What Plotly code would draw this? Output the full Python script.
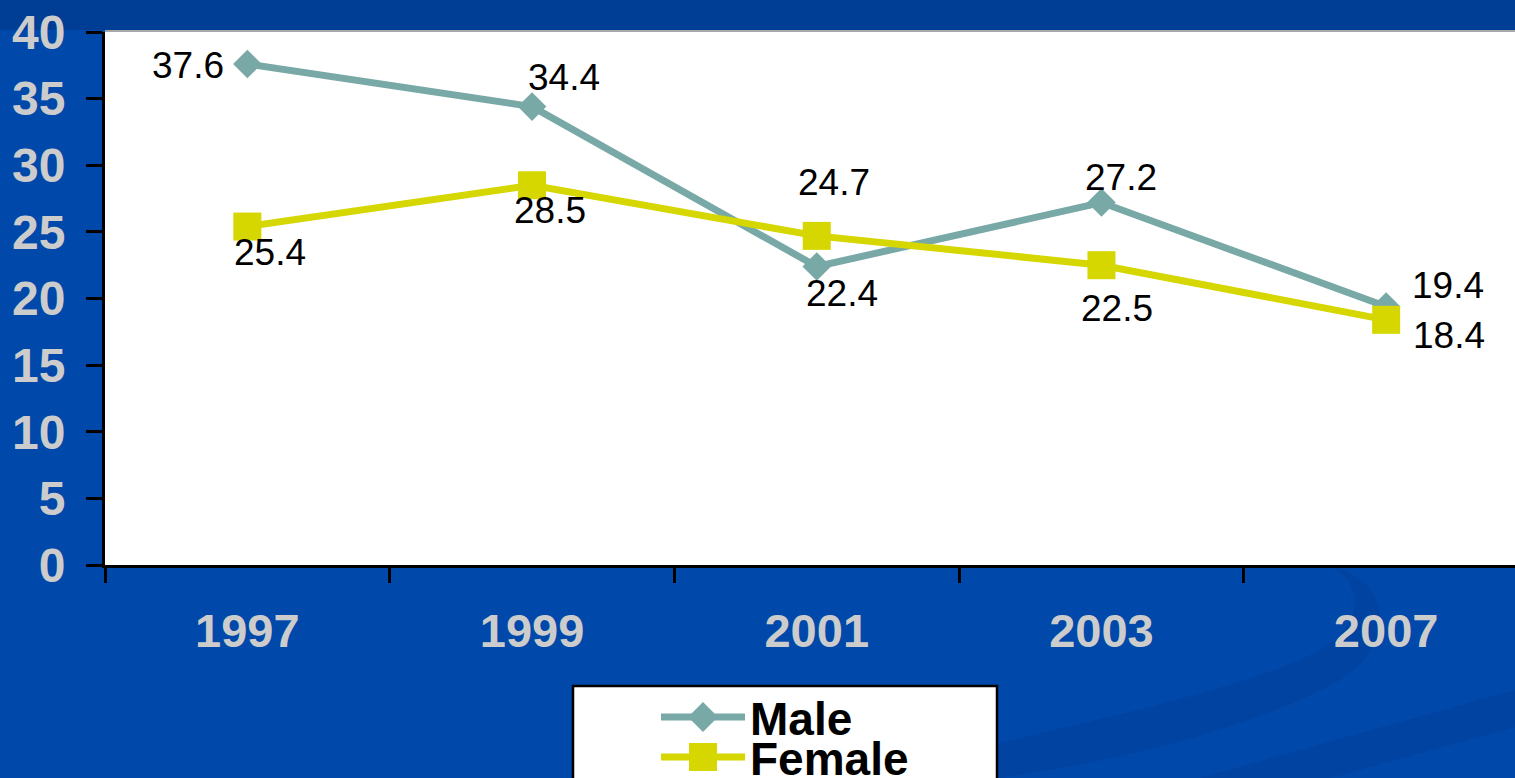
import plotly.graph_objects as go

# ---- data ----
years = ["1997", "1999", "2001", "2003", "2007"]
male = [37.6, 34.4, 22.4, 27.2, 19.4]
female = [25.4, 28.5, 24.7, 22.5, 18.4]
y_ticks = [0, 5, 10, 15, 20, 25, 30, 35, 40]

# ---- style ----
W, H = 1515, 778
L, R, T, B = 105, 0, 32, 213
PW, PH = W - L - R, H - T - B
CAT_W = 284.7

MALE_C = "#78A9A7"
FEM_C = "#D6D600"
BG = "#0048AA"
BAND = "#003E96"
TICK_C = "#CCCCCC"
FONT = "Liberation Sans, Arial, sans-serif"

# label offsets in pixels (dx right, dy down) per point
male_off = [(-59, 2), (32, -29), (25, 27), (20, -25), (62, -21)]
fem_off = [(23, 26), (18, 25), (17, -53), (16, 43), (63, 16)]


def px(x):
    return (x - L) / PW


def py(y):
    return (H - B - y) / PH


fig = go.Figure()
fig.add_trace(go.Scatter(
    x=years, y=male, name="Male", mode="lines+markers",
    line=dict(color=MALE_C, width=7),
    marker=dict(symbol="diamond", size=22, color=MALE_C),
    legend="legend",
))
fig.add_trace(go.Scatter(
    x=years, y=female, name="Female", mode="lines+markers",
    line=dict(color=FEM_C, width=7),
    marker=dict(symbol="square", size=28, color=FEM_C),
    legend="legend2",
))

annotations = []
for vals, offs in ((male, male_off), (female, fem_off)):
    for i, (v, (dx, dy)) in enumerate(zip(vals, offs)):
        annotations.append(dict(
            x=i, y=v, xref="x", yref="y", text=f"{v:.1f}", showarrow=False,
            xanchor="center", yanchor="middle", xshift=dx, yshift=-dy,
            font=dict(family=FONT, size=37, color="black"),
        ))

# enlarged legend symbols (decoration under the legend's own small markers)
LEG_CX, LEG_Y1, LEG_Y2, LEG_R = 703, 717, 757, 14
diamond_path = "M {} {} L {} {} L {} {} L {} {} Z".format(
    px(LEG_CX - LEG_R - 1), py(LEG_Y1), px(LEG_CX), py(LEG_Y1 - LEG_R - 1),
    px(LEG_CX + LEG_R + 1), py(LEG_Y1), px(LEG_CX), py(LEG_Y1 + LEG_R + 1))

shapes = [
    # dark top band
    dict(type="rect", xref="paper", yref="paper", x0=px(0), x1=px(W), y0=py(30), y1=py(-5),
         fillcolor=BAND, line=dict(width=0), layer="below"),
    # background swooshes
    dict(type="path", xref="paper", yref="paper", layer="below",
         path=("M {} {} C {} {} {} {} {} {} C {} {} {} {} {} {} C {} {} {} {} {} {} C {} {} {} {} {} {} Z").format(
             px(850), py(778), px(1050), py(730), px(1250), py(690), px(1320), py(650),
             px(1370), py(620), px(1360), py(580), px(1330), py(566),
             px(1390), py(580), px(1400), py(640), px(1340), py(680),
             px(1250), py(730), px(1120), py(760), px(1000), py(778)),
         fillcolor="#0043A0", line=dict(width=0)),
    dict(type="path", xref="paper", yref="paper", layer="below",
         path=("M {} {} L {} {} L {} {} L {} {} Z").format(
             px(1200), py(778), px(1515), py(690), px(1515), py(727), px(1330), py(778)),
         fillcolor="#0043A0", line=dict(width=0)),
    # gray line at top of plot area
    dict(type="line", xref="paper", yref="paper", x0=0, x1=1, y0=1.002, y1=1.002,
         line=dict(color="#A8A8A8", width=2), layer="above"),
    # legend box
    dict(type="rect", xref="paper", yref="paper", x0=px(573), x1=px(997), y0=py(800), y1=py(686),
         fillcolor="white", line=dict(color="black", width=2.5), layer="above"),
    # legend symbols
    dict(type="path", xref="paper", yref="paper", path=diamond_path,
         fillcolor=MALE_C, line=dict(width=0), layer="above"),
    dict(type="rect", xref="paper", yref="paper",
         x0=px(LEG_CX - LEG_R), x1=px(LEG_CX + LEG_R), y0=py(LEG_Y2 + LEG_R), y1=py(LEG_Y2 - LEG_R),
         fillcolor=FEM_C, line=dict(width=0), layer="above"),
]

leg_common = dict(
    bgcolor="rgba(0,0,0,0)", borderwidth=0, itemwidth=84,
    font=dict(family=FONT, size=46, color="black", weight="bold"),
    xanchor="left", yanchor="middle", itemclick=False, itemdoubleclick=False,
)

fig.update_layout(
    width=W, height=H,
    margin=dict(l=L, r=R, t=T, b=B, autoexpand=False),
    paper_bgcolor=BG, plot_bgcolor="white",
    showlegend=True,
    legend=dict(x=px(656), y=py(717), **leg_common),
    legend2=dict(x=px(656), y=py(757), **leg_common),
    annotations=annotations,
    shapes=shapes,
    xaxis=dict(
        type="category", range=[-0.5, -0.5 + PW / CAT_W],
        tickson="boundaries", ticks="outside", ticklen=15, tickwidth=2.5, tickcolor="black",
        showline=True, linecolor="black", linewidth=3, showgrid=False, zeroline=False,
        tickfont=dict(family=FONT, size=47, color=TICK_C, weight="bold"),
        ticklabelstandoff=23, automargin=False,
    ),
    yaxis=dict(
        range=[0, 40], tickvals=y_ticks, ticks="outside", ticklen=16, tickwidth=2.5,
        tickcolor="black", showline=True, linecolor="black", linewidth=3,
        showgrid=False, zeroline=False, automargin=False,
        tickfont=dict(family=FONT, size=48, color=TICK_C, weight="bold"),
        ticklabelstandoff=11,
    ),
)

fig.write_html(
    "out.html",
    config={"displayModeBar": False},
    post_script="document.body.style.margin='0px';document.body.style.overflow='hidden';",
)
